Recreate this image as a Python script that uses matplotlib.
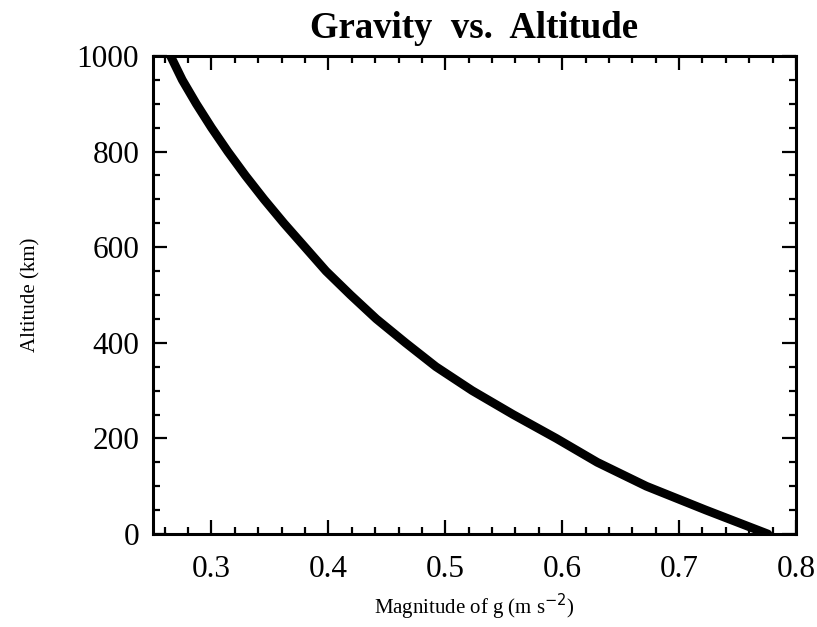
import numpy as np
import matplotlib
matplotlib.use("Agg")
import matplotlib.pyplot as plt
from matplotlib.ticker import MultipleLocator

# values
altitude = [0, 50, 100, 150, 200, 250, 300, 350, 400, 450, 500,
            550, 600, 650, 700, 750, 800, 850, 900, 950, 1000]
gravity = [0.776, 0.723, 0.672, 0.630, 0.595, 0.558, 0.523, 0.492, 0.466, 0.441, 0.419,
           0.398, 0.380, 0.362, 0.345, 0.329, 0.314, 0.300, 0.287, 0.275, 0.265]

xticks = [0.3, 0.4, 0.5, 0.6, 0.7, 0.8]
yticks = [0, 200, 400, 600, 800, 1000]

plt.rcParams['font.family'] = ['Liberation Serif', 'DejaVu Serif']

fig = plt.figure(figsize=(8.17, 6.27), dpi=100)
ax = fig.add_axes([0.1873, 0.1483, 0.787, 0.7624])

ax.plot(gravity, altitude, color='black', linewidth=6.3, solid_capstyle='round')

ax.set_xlim(0.25, 0.8)
ax.set_ylim(0, 1000)
ax.set_xticks(xticks)
ax.set_yticks(yticks)
ax.set_xticklabels([str(t) for t in xticks])
ax.set_yticklabels([str(t) for t in yticks])
ax.xaxis.set_minor_locator(MultipleLocator(0.02))
ax.yaxis.set_minor_locator(MultipleLocator(50))

ax.tick_params(which='both', direction='in', top=True, right=True, width=1.6)
ax.tick_params(which='major', length=10, labelsize=22.5)
ax.tick_params(axis='x', which='major', pad=15)
ax.tick_params(axis='y', which='major', pad=10)
ax.tick_params(which='minor', length=5)
for s in ax.spines.values():
    s.set_linewidth(2.2)

ax.set_title("Gravity  vs.  Altitude", fontsize=26.5, fontweight='bold', pad=13)
ax.set_xlabel("Magnitude of g (m s$^{-2}$)", fontsize=15, labelpad=6)
ax.set_ylabel("Altitude (km)", fontsize=15, labelpad=26)

fig.savefig("out.png", dpi=100)
